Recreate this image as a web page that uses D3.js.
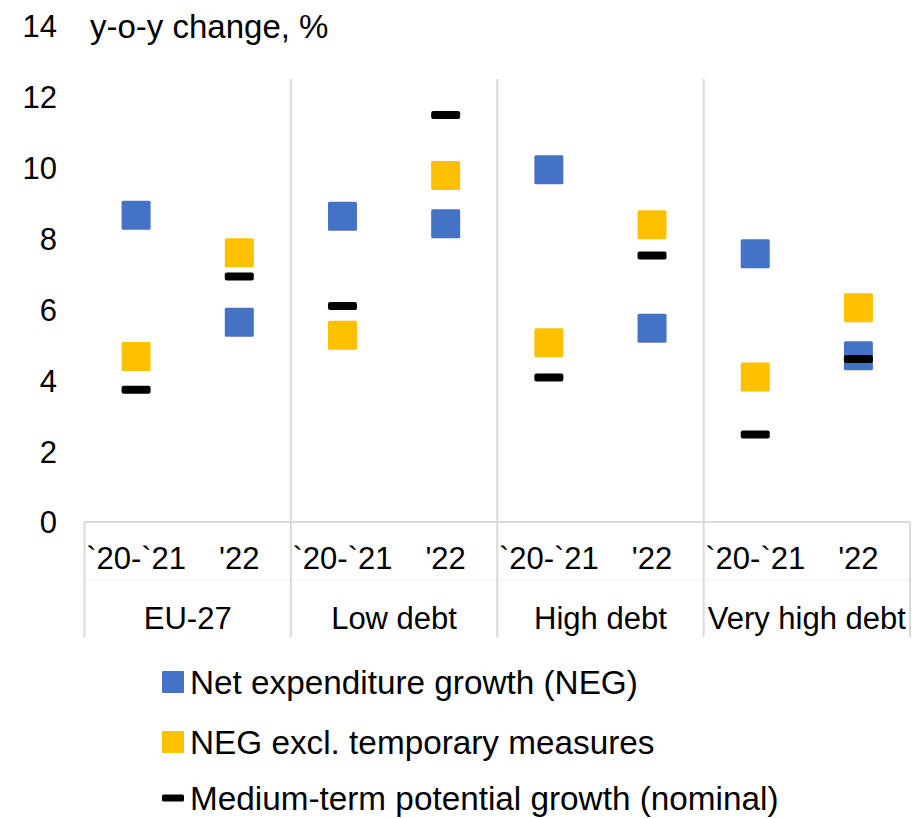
<!DOCTYPE html>
<html><head><meta charset="utf-8">
<script src="https://cdn.jsdelivr.net/npm/d3@7"></script>
<style>body{margin:0;background:#fff}svg{display:block}text{font-family:"Liberation Sans",Arial,sans-serif;fill:#000}</style>
</head><body><svg id="c" width="915" height="818"></svg>
<script>
const groups = ["EU-27","Low debt","High debt","Very high debt"];
const periods = ["`20-`21","'22"];
const neg      = [8.66,5.64, 8.63,8.42, 9.94,5.47, 7.57,4.69];
const negExcl  = [4.67,7.60, 5.27,9.78, 5.06,8.39, 4.09,6.05];
const potGrowth= [3.73,6.93, 6.10,11.49, 4.08,7.52, 2.47,4.60];
const yTicks = [0,2,4,6,8,10,12,14];
const legendLabels = ["Net expenditure growth (NEG)","NEG excl. temporary measures","Medium-term potential growth (nominal)"];

const svg = d3.select("#c");
const x0 = 84.5, x1 = 910, yBase = 522, yTop = 26;
const y = d3.scaleLinear().domain([0,14]).range([yBase,yTop]);
const gx = d3.scaleBand().domain(groups).range([x0,x1]);
const px = d3.scaleBand().domain(periods).range([0,gx.bandwidth()]);
const keys = [];
groups.forEach(g=>periods.forEach(p=>keys.push([g,p])));
const cx = i => gx(keys[i][0]) + px(keys[i][1]) + px.bandwidth()/2;
const grid = "#d9d9d9";

// y tick labels
const yAxis = d3.axisLeft(y).tickValues(yTicks).tickSize(0).tickPadding(0);
const ya = svg.append("g").attr("transform","translate(57,0)").call(yAxis);
ya.select(".domain").remove();
ya.selectAll("text").attr("font-size",31).attr("font-family","Liberation Sans, Arial, sans-serif").attr("fill","#000").attr("dy","0.35em");
svg.append("text").attr("x",90).attr("y",y(14)).attr("dy","0.35em").attr("font-size",33).text("y-o-y change, %");

// axis lines
svg.append("line").attr("x1",x0).attr("x2",x1).attr("y1",yBase).attr("y2",yBase).attr("stroke",grid).attr("stroke-width",2);
svg.append("line").attr("x1",x0).attr("x2",x1).attr("y1",580).attr("y2",580).attr("stroke","#f2f2f2").attr("stroke-width",1);
[x0,x1].forEach(v=>svg.append("line").attr("x1",v).attr("x2",v).attr("y1",yBase).attr("y2",637).attr("stroke",grid).attr("stroke-width",2));
groups.slice(1).forEach(g=>svg.append("line").attr("x1",gx(g)).attr("x2",gx(g)).attr("y1",79).attr("y2",637).attr("stroke",grid).attr("stroke-width",2));

// category labels
keys.forEach((k,i)=>svg.append("text").attr("x",cx(i)).attr("y",558).attr("dy","0.35em").attr("text-anchor","middle").attr("font-size",31).text(k[1]));
groups.forEach(g=>svg.append("text").attr("x",gx(g)+gx.bandwidth()/2).attr("y",618).attr("dy","0.35em").attr("text-anchor","middle").attr("font-size",31).text(g));

// markers
const S = 29;
svg.append("g").selectAll("rect").data(neg).join("rect")
  .attr("x",(d,i)=>cx(i)-S/2).attr("y",d=>y(d)-S/2).attr("width",S).attr("height",S).attr("rx",1.5).attr("fill","#4472C4");
svg.append("g").selectAll("rect").data(negExcl).join("rect")
  .attr("x",(d,i)=>cx(i)-S/2).attr("y",d=>y(d)-S/2).attr("width",S).attr("height",S).attr("rx",1.5).attr("fill","#FFC000");
svg.append("g").selectAll("rect").data(potGrowth).join("rect")
  .attr("x",(d,i)=>cx(i)-S/2).attr("y",d=>y(d)-4).attr("width",S).attr("height",8).attr("rx",2).attr("fill","#000");

// legend
const ly = [682,742,798];
const lc = ["#4472C4","#FFC000","#000"];
legendLabels.forEach((t,i)=>{
  if(i<2) svg.append("rect").attr("x",162).attr("y",ly[i]-11).attr("width",22).attr("height",22).attr("rx",1).attr("fill",lc[i]);
  else svg.append("rect").attr("x",162).attr("y",ly[i]-3.5).attr("width",22).attr("height",7).attr("rx",1.5).attr("fill",lc[i]);
  svg.append("text").attr("x",190).attr("y",ly[i]).attr("dy","0.35em").attr("font-size",33.3).text(t);
});
</script></body></html>
